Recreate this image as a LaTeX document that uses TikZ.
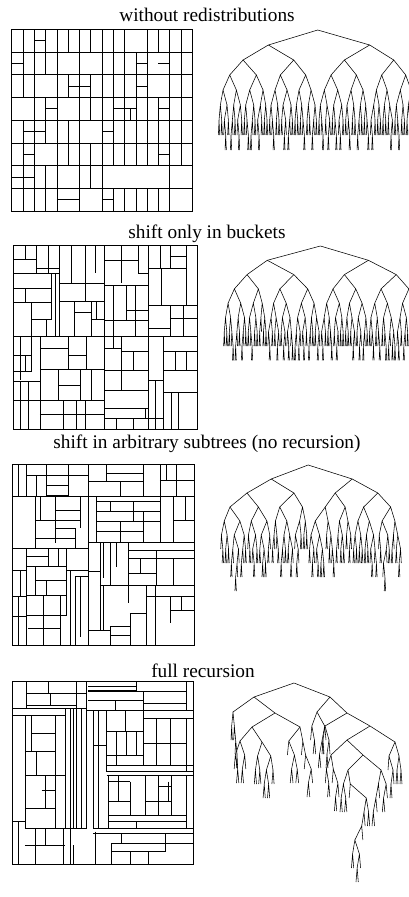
\documentclass[tikz,border=0pt]{standalone}
\usepackage{fontspec}
\setmainfont{Liberation Serif}
\tikzset{
  sq/.style={line width=0.55pt,black},
  br/.style={line width=0.55pt,black,line join=round},
  ttl/.style={anchor=base,font=\fontsize{19.3}{22}\selectfont,inner sep=0pt}
}
% random split of n leaves into k | n-k
\newcommand\kdsplit[2]{%
  \pgfmathtruncatemacro#2{max(1,min(#1-1,round(#1*(0.5+\kds*(2*rnd-1)))))}}
% a, w, n, k, y : subtree with n>=2 leaves on interval [a,a+w], split at k
\newcommand\kdt[5]{%
 \begingroup
  \pgfmathsetmacro\xx{#1+#2*#4/#3}%
  \pgfmathsetmacro\yy{#5+\kdy}%
  \pgfmathsetmacro\wl{#2*#4/#3}%
  \pgfmathtruncatemacro\nr{#3-#4}%
  \pgfmathsetmacro\wr{#2-\wl}%
  \ifnum#4>1 \kdsplit{#4}\kl\pgfmathsetmacro\xl{#1+\wl*\kl/#4}\else\pgfmathsetmacro\xl{#1+\wl/2}\fi
  \ifnum\nr>1 \kdsplit{\nr}\kr\pgfmathsetmacro\xr{\xx+\wr*\kr/\nr}\else\pgfmathsetmacro\xr{\xx+\wr/2}\fi
  \draw[br] (\xl,\yy) -- (\xx,#5) -- (\xr,\yy);
  \edef\next{%
    \ifnum#4>1 \noexpand\kdt{#1}{\wl}{#4}{\kl}{\yy}\fi
    \ifnum\nr>1 \noexpand\kdt{\xx}{\wr}{\nr}{\kr}{\yy}\fi}%
  \next
 \endgroup}
% subtree rooted at (x0,y0): x0, y0, width, n, k
\newcommand\kdsub[5]{%
  \pgfmathsetmacro\kda{#1-#3*#5/#4}%
  \edef\kdnext{\noexpand\kdt{\kda}{#3}{#4}{#5}{#2}}\kdnext}
\begin{document}
\begin{tikzpicture}[x=1pt,y=-1pt]
\fill[white] (0,0) rectangle (409,897);
\useasboundingbox (0,0) rectangle (409,897);

% ---------- titles ----------
\node[ttl] (t1) at (207,21) {without redistributions};
\node[ttl] (t2) at (207,238) {shift only in buckets};
\node[ttl] (t3) at (207,448) {shift in arbitrary subtrees (no recursion)};
\node[ttl] (t4) at (203,677) {full recursion};

% ---------- square 1 ----------
\begin{scope}[shift={(11.7,29.3)},x=11.29pt,y=-22.7pt]
 \draw[sq] (0,0) rectangle (16,8);
 \foreach \r in {1,...,7} \draw[sq] (0,\r)--(16,\r);
 \foreach \r/\cs in {0/{1,2,3,4,5,6,7,8,9,10,12,13,14,15},
                     1/{1,2,3,4,6,8,9,10,11,12,14,15},
                     2/{1,2,4,5,6,7,8,9,10,11,12,14,15},
                     3/{2,3,4,6,7,8,9,10,11,12,13,14,15},
                     4/{1,2,3,4,5,6,8,9,10,11,12,13,14,15},
                     5/{1,2,4,5,6,7,8,9,10,11,12,13,14,15},
                     6/{1,2,3,4,6,7,8,14},
                     7/{1,2,3,4,6,8,9,10,11,12,13,14}}
   {\foreach \c in \cs \draw[sq] (\c,\r)--(\c,\r+1);}
 \foreach \r/\a/\b in {0/2/3,1/0/1,1/11/12,1/13/14,2/5/7,2/11/12,3/3/4,3/9/11,
                       3/13/14,4/1/3,4/8/9,5/1/2,5/13/14,6/0/1,6/1/2,7/4/6,7/8/9}
   \draw[sq] (\a,\r+.5)--(\b,\r+.5);
 \draw[sq] (10.5,3.5)--(10.5,4);
\end{scope}

% ---------- square 2 ----------
\begin{scope}[shift={(5,240)},scale=1/3]
 \draw[sq] (25,15) rectangle (578,567);
 \draw[sq] (298,15)--(298,567) (25,288)--(578,288)
  (95,15)--(95,100) (25,58)--(95,58) (60,15)--(60,58)
  (25,100)--(162,100) (130,15)--(130,100) (162,15)--(162,288) (95,85)--(162,85)
  (25,145)--(140,145) (25,188)--(140,188) (60,145)--(60,188)
  (140,100)--(140,240) (150,100)--(150,288)
  (80,238)--(140,238) (80,188)--(80,288) (125,238)--(125,288)
  (200,15)--(200,130) (240,15)--(240,130) (162,130)--(298,130) (270,15)--(270,100)
  (162,185)--(298,185) (240,130)--(240,185) (208,185)--(208,288) (208,218)--(258,218)
  (258,185)--(258,288) (258,238)--(298,238) (275,185)--(275,238)
  (348,15)--(348,130) (400,15)--(400,100) (348,62)--(400,62) (298,62)--(348,62)
  (298,135)--(430,135) (430,15)--(430,288) (400,100)--(430,100)
  (465,15)--(465,85) (430,85)--(545,85) (495,15)--(495,85) (495,50)--(545,50) (545,15)--(545,195)
  (325,135)--(325,288) (365,135)--(365,240) (390,135)--(390,288) (298,240)--(430,240) (365,210)--(430,210)
  (470,85)--(470,195) (430,195)--(578,195) (495,235)--(578,235) (495,195)--(495,288)
  (535,195)--(535,288) (430,265)--(495,265)
  (45,288)--(45,420) (80,288)--(80,395) (105,288)--(105,567) (25,345)--(80,345) (60,345)--(60,395)
  (25,395)--(80,395) (25,425)--(105,425) (45,425)--(45,567) (25,480)--(105,480) (70,425)--(70,567)
  (105,388)--(298,388) (190,288)--(190,388) (105,325)--(190,325) (245,288)--(245,388) (190,345)--(245,345)
  (160,388)--(160,480) (160,435)--(225,435) (225,388)--(225,480) (260,388)--(260,480)
  (105,480)--(298,480) (175,480)--(175,567) (240,480)--(240,567) (105,522)--(298,522) (215,480)--(215,567)
  (350,288)--(350,390) (298,325)--(350,325) (325,288)--(325,325) (350,335)--(430,335) (385,335)--(385,390)
  (298,390)--(430,390) (430,288)--(430,567) (475,288)--(475,567) (475,335)--(578,335)
  (510,335)--(510,390) (545,335)--(545,390) (475,390)--(578,390) (475,458)--(578,458)
  (500,458)--(500,567) (520,458)--(520,567)
  (298,450)--(430,450) (348,390)--(348,450) (450,420)--(450,567) (430,420)--(475,420)
  (298,505)--(430,505) (298,535)--(475,535) (335,535)--(335,567) (385,535)--(385,567) (420,505)--(420,535);
\end{scope}

% ---------- square 3 ----------
\begin{scope}[shift={(0,460)},scale=1/3]
 \draw[sq] (36,12) rectangle (582,555);
 \draw[sq] (265,12)--(265,555) (36,265)--(265,265) (265,248)--(582,248)
  (55,12)--(55,110) (80,12)--(80,110) (80,45)--(265,45) (140,12)--(140,45) (140,75)--(205,75)
  (140,105)--(205,105) (110,45)--(110,110) (140,45)--(140,110) (205,12)--(205,110) (36,110)--(265,110)
  (105,110)--(105,265) (105,180)--(240,180) (165,110)--(165,250) (165,150)--(240,150) (165,205)--(225,205)
  (105,235)--(225,235) (225,205)--(225,265) (240,110)--(240,205) (120,110)--(120,180)
  (320,12)--(320,65) (265,65)--(430,65) (320,40)--(430,40) (430,12)--(430,110) (480,12)--(480,110)
  (480,60)--(582,60) (500,12)--(500,60) (530,12)--(530,110) (265,110)--(582,110) (360,65)--(360,110)
  (290,110)--(290,248) (290,125)--(480,125) (290,155)--(480,155) (290,185)--(480,185) (290,215)--(430,215)
  (330,125)--(330,155) (400,125)--(400,185) (360,185)--(360,248) (430,155)--(430,248) (480,110)--(480,248)
  (520,110)--(520,248) (555,110)--(555,180) (520,180)--(582,180)
  (80,265)--(80,555) (36,330)--(80,330) (36,410)--(80,410) (36,470)--(80,470) (55,410)--(55,555) (60,330)--(60,410)
  (80,290)--(145,290) (145,265)--(145,320) (80,320)--(200,320) (175,265)--(175,320) (105,360)--(200,360)
  (105,320)--(105,405) (200,265)--(200,465) (80,405)--(200,405) (140,360)--(140,405) (85,505)--(180,505)
  (130,405)--(130,555) (180,405)--(180,555) (80,465)--(200,465)
  (210,330)--(210,555) (225,350)--(225,555) (240,350)--(240,530) (200,330)--(265,330) (225,350)--(265,350)
  (300,248)--(300,510) (310,248)--(310,355) (265,335)--(300,335) (330,248)--(330,375) (350,248)--(350,320)
  (385,248)--(385,430) (300,375)--(385,375) (310,375)--(310,510) (265,510)--(330,510) (330,500)--(390,500)
  (330,525)--(390,525) (330,500)--(330,555) (390,460)--(390,555)
  (385,270)--(582,270) (385,295)--(582,295) (385,340)--(470,340) (470,270)--(470,375) (420,295)--(420,340)
  (520,295)--(520,375) (385,375)--(582,375) (440,375)--(440,555) (440,410)--(520,410) (465,375)--(465,555)
  (465,410)--(582,410) (510,410)--(510,490) (545,410)--(545,450) (510,450)--(582,450) (390,460)--(440,460);
\end{scope}

% ---------- square 4 ----------
\begin{scope}[shift={(5,675)},scale=1/3]
 \draw[sq] (22,20) rectangle (565,568);
 \draw[sq] (22,100)--(245,100) (245,20)--(245,105) (245,105)--(565,105)
  (65,55)--(245,55) (65,20)--(65,100) (130,20)--(130,55) (215,20)--(215,100) (65,90)--(215,90) (135,55)--(135,90)
  (250,35)--(395,35) (250,45)--(395,45) (250,50)--(415,50) (250,75)--(415,75) (330,75)--(330,105)
  (395,20)--(395,50) (415,50)--(545,50) (415,50)--(415,105) (415,85)--(545,85) (545,20)--(545,105)
  (180,100)--(180,460) (195,100)--(195,568) (205,100)--(205,460) (215,100)--(215,460) (230,100)--(230,460)
  (245,100)--(245,460)
  (22,120)--(180,120) (60,120)--(60,460) (80,120)--(80,230) (80,175)--(150,175) (60,230)--(150,230)
  (95,230)--(95,300) (150,120)--(150,460) (60,300)--(180,300) (120,300)--(120,400) (110,345)--(150,345)
  (60,400)--(150,400) (60,460)--(180,460) (90,460)--(90,568) (120,460)--(120,510) (60,510)--(180,510)
  (175,460)--(175,568) (175,460)--(245,460) (205,510)--(205,568) (22,440)--(60,440) (40,440)--(40,568)
  (265,105)--(265,460) (280,105)--(280,460) (305,105)--(305,290) (265,210)--(305,210)
  (305,170)--(415,170) (360,105)--(360,170) (415,105)--(415,270) (415,130)--(565,130) (455,130)--(455,270)
  (495,130)--(495,270) (415,205)--(545,205) (545,130)--(545,290) (305,240)--(415,240) (305,270)--(565,270)
  (305,290)--(565,290) (335,170)--(335,270) (365,170)--(365,240) (395,170)--(395,240)
  (340,300)--(340,380) (375,320)--(375,420) (310,320)--(375,320) (310,380)--(375,380) (420,300)--(420,420)
  (420,380)--(500,380) (460,300)--(460,420) (490,320)--(490,380) (460,335)--(500,335) (500,300)--(500,420)
  (545,300)--(545,460) (310,420)--(545,420) (310,440)--(545,440) (395,440)--(395,460) (305,300)--(565,300)
  (310,300)--(310,460)
  (265,460)--(565,460) (265,475)--(565,475) (350,475)--(350,505) (480,475)--(480,530) (320,505)--(565,505)
  (320,530)--(480,530) (320,505)--(320,568) (375,530)--(375,568) (430,530)--(430,568) (270,470)--(270,568);
\end{scope}

% ---------- trees ----------
\pgfmathsetseed{11}\def\kds{0.02}\def\kdy{15}
\kdt{217.7}{200}{150}{75}{30}
\pgfmathsetseed{23}\def\kds{0.05}\def\kdy{14.3}
\kdt{223}{196}{155}{77}{246}
\pgfmathsetseed{37}\def\kds{0.15}\def\kdy{14}
\kdt{220}{182}{128}{62}{465}

% tree 4: hand-placed upper skeleton, random subtrees below
\foreach \n/\x/\y in {r/294/683, l1/254/697, r1/330/697, ll/233/712, lr/275/713,
   lrl/252/727, lrr/300/727, lrll/240/741, lrlr/262/742, r1l/317/712, r1r/347/713,
   r1rl/325/726, r1rr/370/726, r1rrl/347/740, r1rrr/395/742, r1rrll/331/755,
   r1rrlr/363/755, r1rrlrl/348/770, r1rrlrr/381/770}
  \coordinate (\n) at (\x,\y);
\draw[br] (l1)--(r)--(r1) (ll)--(l1)--(lr) (lrl)--(lr)--(lrr) (lrll)--(lrl)--(lrlr)
  (r1l)--(r1)--(r1r) (r1rl)--(r1r)--(r1rr) (r1rrl)--(r1rr)--(r1rrr)
  (r1rrll)--(r1rrl)--(r1rrlr) (r1rrlrl)--(r1rrlr)--(r1rrlrr);
\pgfmathsetseed{7}\def\kds{0.42}\def\kdy{14}
\kdsub{233}{712}{8}{6}{2}
\kdsub{240}{741}{14}{6}{3}
\kdsub{262}{742}{22}{10}{4}
\kdsub{300}{727}{28}{10}{5}
\kdsub{317}{712}{18}{7}{3}
\kdsub{325}{726}{10}{5}{2}
\kdsub{395}{742}{16}{8}{4}
\kdsub{331}{755}{16}{7}{3}
\kdsub{381}{770}{18}{7}{4}
\kdsub{348}{770}{32}{14}{4}
\end{tikzpicture}
\end{document}
